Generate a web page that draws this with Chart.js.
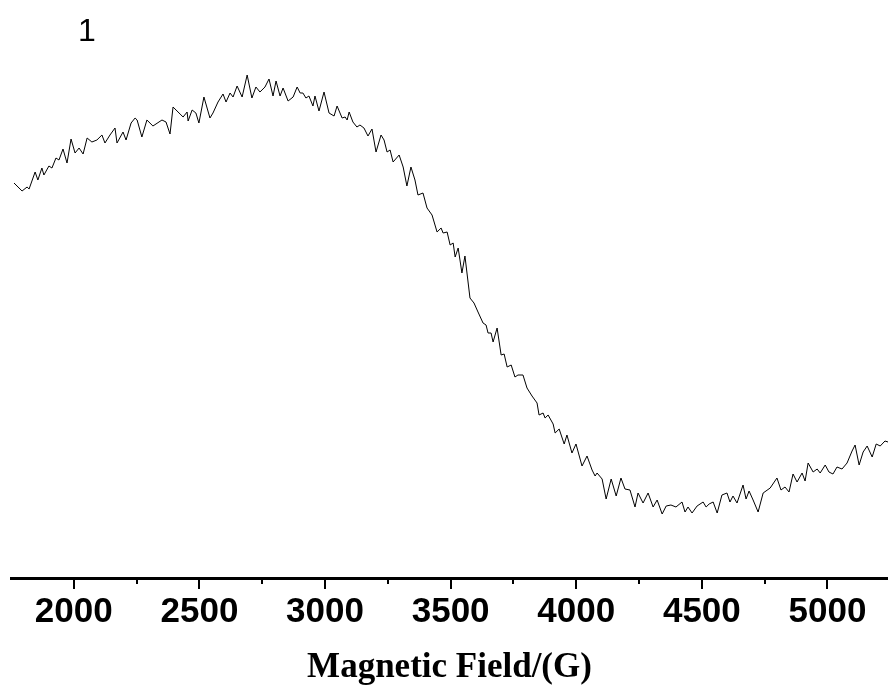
<!DOCTYPE html>
<html>
<head>
<meta charset="utf-8">
<script src="https://cdn.jsdelivr.net/npm/chart.js@4"></script>
<style>
  html, body { margin: 0; padding: 0; background: #fff; }
  #wrap { width: 888px; height: 689px; }
</style>
</head>
<body>
<div id="wrap"><canvas id="chart"></canvas></div>
<script>
// magnetic field (G) and signal intensity (arbitrary units)
const fieldG = [1762,1794,1814,1822,1846,1857,1873,1881,1901,1913,1929,1941,1957,1973,1989,2005,2021,2037,2053,2072,2092,2112,2124,2144,2164,2172,2196,2208,2228,2244,2252,2271,2291,2315,2351,2367,2383,2395,2423,2435,2451,2455,2471,2486,2498,2518,2542,2554,2574,2594,2606,2622,2634,2650,2670,2690,2709,2725,2741,2761,2777,2793,2805,2821,2833,2853,2873,2889,2901,2912,2924,2936,2952,2960,2976,2996,3016,3036,3048,3068,3080,3088,3096,3111,3127,3139,3155,3171,3187,3203,3223,3235,3247,3259,3271,3295,3311,3326,3342,3358,3370,3390,3406,3426,3446,3462,3470,3486,3498,3510,3518,3530,3545,3557,3577,3593,3609,3629,3641,3649,3661,3669,3685,3701,3713,3725,3741,3756,3768,3788,3804,3824,3844,3852,3868,3876,3888,3908,3916,3932,3952,3963,3983,3999,4023,4043,4063,4075,4083,4103,4119,4139,4159,4178,4194,4214,4234,4246,4266,4286,4306,4322,4342,4358,4377,4397,4421,4433,4445,4461,4481,4505,4517,4529,4545,4561,4580,4600,4612,4624,4640,4664,4676,4688,4704,4724,4744,4772,4799,4815,4831,4847,4863,4879,4899,4911,4923,4943,4959,4971,4991,5006,5022,5038,5058,5078,5098,5110,5126,5142,5158,5178,5194,5210,5229,5241];
const intensity = [395,387,391,389,406,398,410,403,412,410,420,418,429,415,439,425,430,424,440,436,438,443,435,443,450,435,446,438,455,460,458,441,458,452,458,456,444,471,464,461,466,457,468,465,455,481,460,465,476,484,476,485,481,492,481,503,480,491,486,491,499,482,497,482,490,477,481,491,485,485,480,482,472,482,467,486,465,462,472,460,461,458,466,456,451,453,450,442,449,426,443,438,426,428,416,423,411,392,411,398,383,385,370,363,346,350,345,346,333,335,321,330,305,322,280,275,266,255,253,245,245,236,250,223,224,211,213,201,203,203,190,182,175,163,165,160,163,154,145,149,134,143,125,134,112,122,108,102,105,99,79,99,82,100,89,88,71,85,75,85,71,78,64,72,73,71,76,66,71,65,72,76,71,74,76,65,83,85,76,82,75,93,79,87,78,66,85,90,100,88,91,86,104,96,105,97,115,106,109,105,113,106,104,111,109,115,127,133,113,126,132,121,134,132,137,136];

// axis ticks
const majorTicks = [2000, 2500, 3000, 3500, 4000, 4500, 5000];
const minorTicks = [2250, 2750, 3250, 3750, 4250, 4750];

const xMin = 1750;
const xMax = 5241;
const xTitle = "Magnetic Field/(G)";
const panelLabel = "1";

const points = fieldG.map((g, i) => ({ x: g, y: intensity[i] }));

const panelLabelPlugin = {
  id: "panelLabel",
  afterDraw(chart) {
    const c = chart.ctx;
    c.save();
    c.fillStyle = "#000";
    c.font = "32px 'Liberation Sans', Arial, sans-serif";
    c.textBaseline = "alphabetic";
    c.fillText(panelLabel, 78, 41);
    c.restore();
  }
};

const ctx = document.getElementById("chart").getContext("2d");
new Chart(ctx, {
  type: "line",
  data: {
    datasets: [
      {
        data: points,
        borderColor: "#000",
        borderWidth: 1,
        pointRadius: 0,
        tension: 0,
        fill: false
      }
    ]
  },
  options: {
    responsive: true,
    maintainAspectRatio: false,
    animation: false,
    layout: { padding: { left: 11, right: 0, top: 0, bottom: 0 } },
    plugins: {
      legend: { display: false },
      tooltip: { enabled: false }
    },
    scales: {
      y: {
        display: false,
        min: 0,
        max: 578
      },
      xMinor: {
        type: "linear",
        position: "bottom",
        weight: 0,
        min: xMin,
        max: xMax,
        afterBuildTicks: (scale) => {
          scale.ticks = minorTicks.map(v => ({ value: v }));
        },
        afterFit: (scale) => { scale.height = 0; },
        ticks: { display: false, autoSkip: false },
        grid: { drawOnChartArea: false, tickLength: 6, lineWidth: 2, color: "#000" },
        border: { display: false }
      },
      x: {
        type: "linear",
        position: "bottom",
        weight: 1,
        min: xMin,
        max: xMax,
        afterBuildTicks: (scale) => {
          scale.ticks = majorTicks.map(v => ({ value: v }));
        },
        afterFit: (scale) => { scale.height = 111; },
        ticks: {
          autoSkip: false,
          color: "#000",
          padding: 2,
          maxRotation: 0,
          callback: (v) => String(v),
          font: { family: "'Liberation Sans', Arial, sans-serif", size: 35, weight: "bold" }
        },
        grid: { drawOnChartArea: false, tickLength: 11, lineWidth: 2, color: "#000" },
        border: { display: true, color: "#000", width: 3 },
        title: {
          display: true,
          text: xTitle,
          color: "#000",
          padding: { top: 4, bottom: 0 },
          font: { family: "'Liberation Serif', 'Times New Roman', serif", size: 35, weight: "bold" }
        }
      }
    }
  },
  plugins: [panelLabelPlugin]
});
</script>
</body>
</html>
